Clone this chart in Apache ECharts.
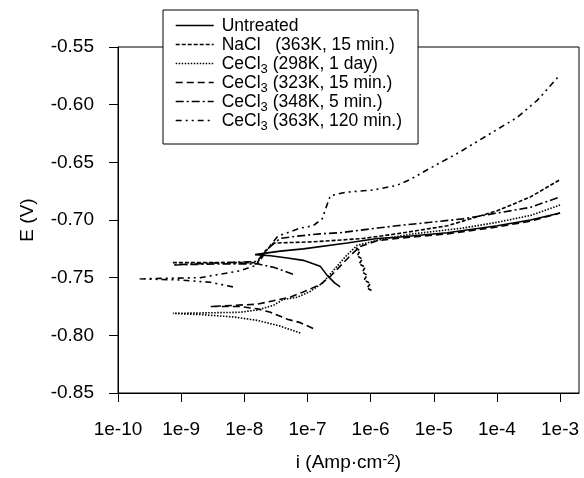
<!DOCTYPE html>
<html>
<head>
<meta charset="utf-8">
<script src="https://cdn.jsdelivr.net/npm/echarts@6/dist/echarts.min.js"></script>
<style>
  html, body { margin: 0; padding: 0; background: #fff; }
  #chart { width: 584px; height: 478px; }
</style>
</head>
<body>
<div id="chart"></div>
<script>
// current density (A/cm2) and potential (V)
const untreatedI = [3.3e-7, 2.75e-7, 2.05e-7, 1.59e-7, 8.6e-8, 4.8e-8, 2.6e-8, 1.48e-8, 3.7e-8, 8.6e-8, 4.25e-7, 1.27e-6, 2.6e-6, 1.64e-5, 1.01e-4, 3.4e-4, 1e-3];
const untreatedE = [-0.758, -0.755, -0.748, -0.740, -0.735, -0.733, -0.731, -0.730, -0.727, -0.725, -0.720, -0.716, -0.715, -0.711, -0.705, -0.700, -0.694];

// null splits the noisy segment from the main curve
const naclI = [5.9e-7, 6.8e-7, 6.1e-7, 7.4e-7, 6.6e-7, 8.2e-7, 7.4e-7, 8.8e-7, 7.9e-7, 9.9e-7, 8.8e-7, 1.1e-6, null,
  7.4e-10, 1.6e-8, 2.1e-8, 2.9e-8, 1.1e-7, 2.3e-7, 7.6e-7, 2.6e-6, 1.64e-5, 3.8e-5, 1.01e-4, 3.4e-4, 1e-3];
const naclE = [-0.724, -0.727, -0.731, -0.734, -0.738, -0.741, -0.745, -0.748, -0.752, -0.755, -0.759, -0.762, null,
  -0.737, -0.737, -0.728, -0.720, -0.719, -0.718, -0.716, -0.712, -0.705, -0.699, -0.692, -0.680, -0.665];

const ce298I = [7.7e-8, 3.7e-8, 1.6e-8, 6.6e-9, 2.0e-9, 7.4e-10, 8.6e-9, 1.6e-8, 2.9e-8, 4.1e-8, 6.9e-8, 1.1e-7, 1.71e-7, 2.55e-7, 3.95e-7, 6.1e-7, 1.42e-6, 4.7e-6, 2.9e-5, 1.01e-4, 3.4e-4, 1e-3];
const ce298E = [-0.798, -0.792, -0.787, -0.784, -0.782, -0.781, -0.780, -0.778, -0.774, -0.769, -0.767, -0.762, -0.755, -0.744, -0.732, -0.722, -0.717, -0.712, -0.707, -0.702, -0.696, -0.687];

const ce323I = [1.23e-7, 7.7e-8, 4.8e-8, 2.6e-8, 1.6e-8, 8.6e-9, 2.9e-9, 1.6e-8, 2.9e-8, 5.3e-8, 9.9e-8, 1.59e-7, 2.3e-7, 3.3e-7, 4.75e-7, 6.8e-7, 1.27e-6, 2.6e-6, 1.64e-5, 1.01e-4, 3.4e-4, 1e-3];
const ce323E = [-0.794, -0.789, -0.786, -0.780, -0.777, -0.775, -0.775, -0.773, -0.770, -0.767, -0.761, -0.756, -0.749, -0.740, -0.731, -0.723, -0.718, -0.716, -0.712, -0.706, -0.701, -0.694];

const ce348I = [5.9e-8, 2.9e-8, 1.6e-8, 4.1e-9, 7.4e-10, 4.1e-9, 1.6e-8, 2.1e-8, 3.7e-8, 6.9e-8, 1.59e-7, 3.3e-7, 1.27e-6, 2.6e-6, 8.8e-6, 2.9e-5, 1.01e-4, 3.4e-4, 1e-3];
const ce348E = [-0.747, -0.741, -0.738, -0.738, -0.739, -0.737, -0.736, -0.727, -0.716, -0.714, -0.712, -0.711, -0.707, -0.705, -0.702, -0.699, -0.694, -0.689, -0.680];

const ce363I = [6.6e-9, 2.9e-9, 9.6e-10, 2.2e-10, 2.0e-9, 4.1e-9, 8.6e-9, 1.6e-8, 2.4e-8, 3.4e-8, 7.7e-8, 1.23e-7, 1.71e-7, 1.98e-7, 2.3e-7, 3.95e-7, 1.1e-6, 2.6e-6, 4.2e-6, 8.8e-6, 2.6e-5, 7.9e-5, 2.1e-4, 4.4e-4, 1e-3];
const ce363E = [-0.758, -0.754, -0.752, -0.751, -0.750, -0.747, -0.744, -0.739, -0.724, -0.714, -0.707, -0.705, -0.699, -0.689, -0.679, -0.676, -0.674, -0.670, -0.665, -0.655, -0.641, -0.625, -0.611, -0.596, -0.574];

const seriesNames = [
  'Untreated',
  'NaCl   (363K, 15 min.)',
  'CeCl3 (298K, 1 day)',
  'CeCl3 (323K, 15 min.)',
  'CeCl3 (348K, 5 min.)',
  'CeCl3 (363K, 120 min.)'
];
const xTicks = [-10, -9, -8, -7, -6, -5, -4, -3];   // log10 of the decade ticks
const yTicks = [-0.85, -0.80, -0.75, -0.70, -0.65, -0.60, -0.55];

const FONT = "'Liberation Sans', Arial, sans-serif";

// x axis is log10(i)
function pts(iArr, eArr) {
  return iArr.map((v, k) => (v == null ? ['-', '-'] : [Math.log10(v), eArr[k]]));
}

const curves = [
  { data: pts(untreatedI, untreatedE), dash: 'solid' },
  { data: pts(naclI, naclE), dash: [4, 2] },
  { data: pts(ce298I, ce298E), dash: [1.5, 1.5] },
  { data: pts(ce323I, ce323E), dash: [7, 4] },
  { data: pts(ce348I, ce348E), dash: [8, 3, 2, 3] },
  { data: pts(ce363I, ce363E), dash: [6, 4, 2, 4, 2, 4] }
];

function legendLabel(name) {
  if (name.indexOf('CeCl3') === 0) return '{a|CeCl}{s|3}{m|' + name.slice(5) + '}';
  return '{a|' + name + '}{s| }';
}

const chart = echarts.init(document.getElementById('chart'), null, { renderer: 'canvas' });

chart.setOption({
  animation: false,
  backgroundColor: '#fff',
  textStyle: { fontFamily: FONT, color: '#000' },
  grid: {
    left: 118, right: 5, top: 47, bottom: 85,
    show: true, borderColor: '#000', borderWidth: 1, backgroundColor: 'transparent',
    outerBoundsMode: 'none'
  },
  legend: {
    orient: 'vertical',
    left: 163, top: 10,
    padding: [7, 16, 11, 12],
    itemGap: -2,
    itemWidth: 38, itemHeight: 14,
    // line sample only, hide the marker dot
    itemStyle: { opacity: 0 },
    lineStyle: { width: 1.4 },
    backgroundColor: '#fff', borderColor: '#000', borderWidth: 1, borderRadius: 0,
    data: seriesNames,
    formatter: legendLabel,
    textStyle: {
      color: '#000', fontFamily: FONT, fontSize: 17.5,
      rich: {
        a: { fontFamily: FONT, fontSize: 17.5, lineHeight: 17, verticalAlign: 'top', color: '#000', padding: [0, 0, 0, 3] },
        m: { fontFamily: FONT, fontSize: 17.5, lineHeight: 17, verticalAlign: 'top', color: '#000' },
        s: { fontFamily: FONT, fontSize: 13, lineHeight: 13, verticalAlign: 'top', color: '#000', padding: [8, 0, 0, 0] }
      }
    }
  },
  xAxis: {
    type: 'value',
    min: -10, max: -2.7, interval: 1,
    name: '{m|i (Amp·cm}{p|-2}{m|)}',
    nameLocation: 'middle',
    nameGap: 60,
    nameTextStyle: {
      rich: {
        m: { fontFamily: FONT, fontSize: 19, lineHeight: 19, verticalAlign: 'bottom', color: '#000' },
        p: { fontFamily: FONT, fontSize: 14, lineHeight: 14, verticalAlign: 'top', color: '#000', padding: [0, 0, 13, 0] }
      }
    },
    axisLine: { onZero: false, lineStyle: { color: '#000', width: 1 } },
    axisTick: { length: 9, lineStyle: { color: '#000' }, customValues: xTicks },
    axisLabel: {
      customValues: xTicks,
      margin: 27,
      fontFamily: FONT, fontSize: 19, color: '#000',
      formatter: (v) => '1e' + v
    },
    splitLine: { show: false }
  },
  yAxis: {
    type: 'value',
    min: -0.85, max: -0.55, interval: 0.05,
    name: 'E (V)',
    nameLocation: 'middle',
    nameGap: 81,
    nameTextStyle: { fontFamily: FONT, fontSize: 19, color: '#000' },
    axisLine: { onZero: false, lineStyle: { color: '#000', width: 1 } },
    axisTick: { length: 9, lineStyle: { color: '#000' }, customValues: yTicks },
    axisLabel: {
      customValues: yTicks,
      margin: 24,
      fontFamily: FONT, fontSize: 19, color: '#000',
      formatter: (v) => v.toFixed(2)
    },
    splitLine: { show: false }
  },
  series: curves.map((c, k) => ({
    name: seriesNames[k],
    type: 'line',
    symbol: 'none',
    showSymbol: false,
    connectNulls: false,
    data: c.data,
    lineStyle: { color: '#000', width: 1.6, type: c.dash },
    itemStyle: { color: '#000' },
    z: 2
  }))
});
</script>
</body>
</html>
